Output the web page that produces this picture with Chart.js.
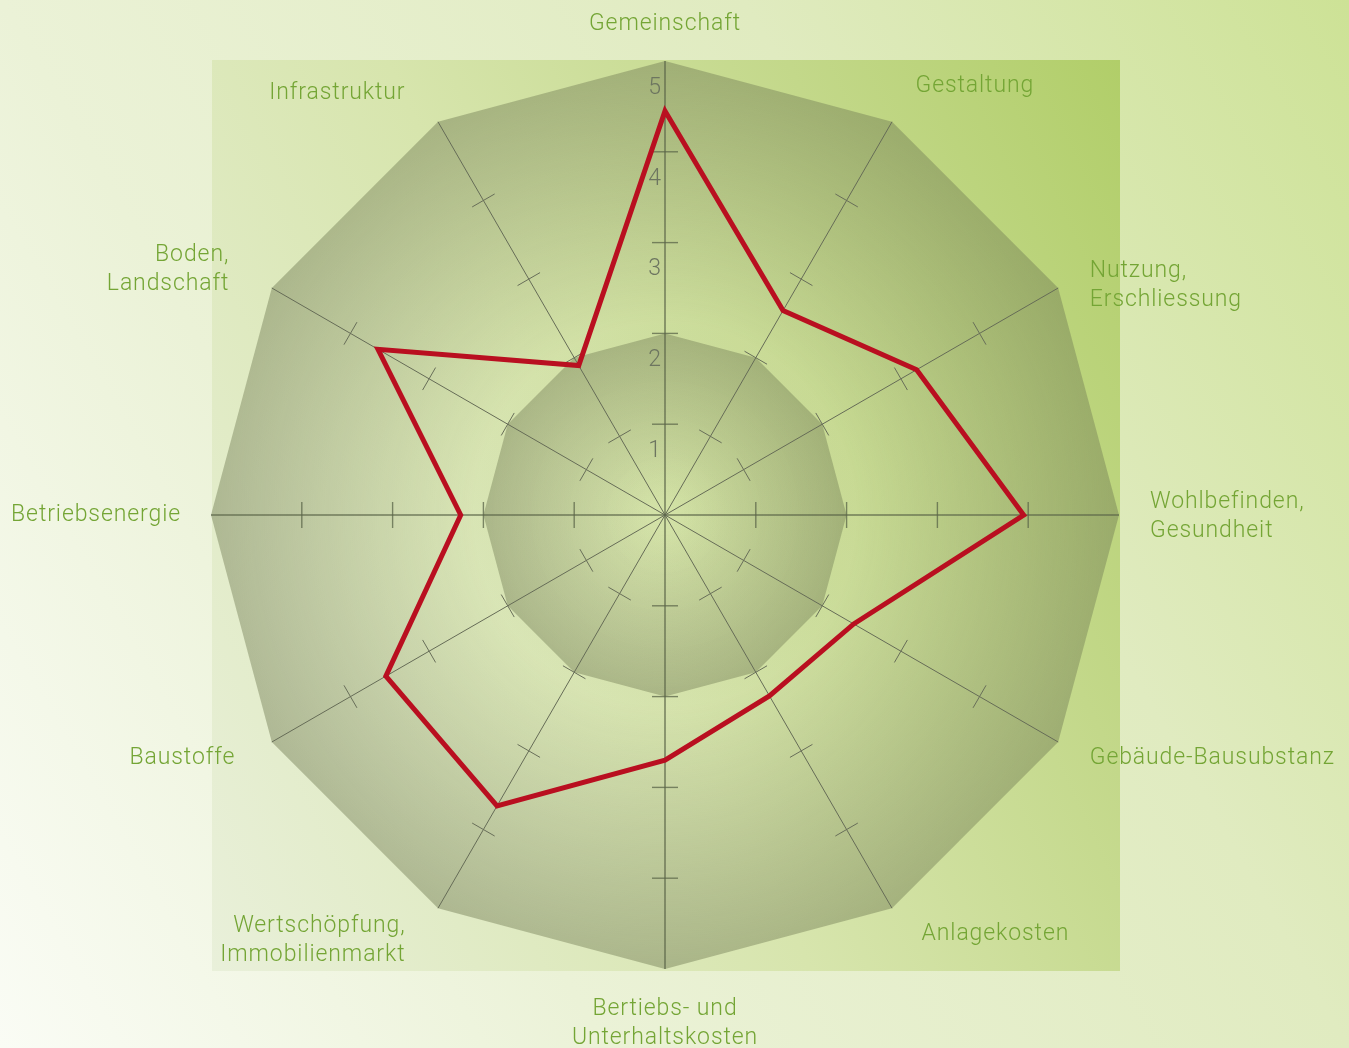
<!DOCTYPE html>
<html>
<head>
<meta charset="utf-8">
<script src="https://cdn.jsdelivr.net/npm/chart.js@4.4.1/dist/chart.umd.min.js"></script>
<style>
  html, body { margin: 0; padding: 0; width: 1349px; height: 1048px; overflow: hidden; }
  body {
    position: relative;
    background: linear-gradient(60deg, #fafcf5 0%, #ebf2d7 31%, #e0ebc0 69%, #cde296 100%);
  }
  #panel {
    position: absolute; left: 212px; top: 60px; width: 908px; height: 911px;
    background: linear-gradient(65deg, #e9f0da 0%, #d7e5ad 45%, #c3d88a 75%, #b1ce69 100%);
  }
  #wrap { position: absolute; left: 0; top: 0; width: 1349px; height: 1048px; }
</style>
</head>
<body>
<div id="panel"></div>
<div id="wrap"><canvas id="radar"></canvas></div>
<script>
// Kriterien im Uhrzeigersinn, beginnend oben
var kriterien = [
  ['Gemeinschaft'],
  ['Gestaltung'],
  ['Nutzung,', 'Erschliessung'],
  ['Wohlbefinden,', 'Gesundheit'],
  ['Gebäude-Bausubstanz'],
  ['Anlagekosten'],
  ['Bertiebs- und', 'Unterhaltskosten'],
  ['Wertschöpfung,', 'Immobilienmarkt'],
  ['Baustoffe'],
  ['Betriebsenergie'],
  ['Boden,', 'Landschaft'],
  ['Infrastruktur']
];
var bewertung = [4.45, 2.6, 3.2, 3.95, 2.4, 2.3, 2.7, 3.7, 3.55, 2.25, 3.65, 1.9];
var tickWerte = [1, 2, 3, 4, 5];
var innenRing = 2;
var aussenRing = 5;

// kleine Verschiebungen der Beschriftungen (px), nur Gestaltung
var labelVersatz = [[0, 3], [7, -7], [3, 14], [-2, 2], [3, 0], [13, -3],
                    [0, 1], [-16, 4], [-8, 0], [3, 0], [-14, -2], [-16, 0]];

var gruen = '#74a535';
var schrift = '300 23px Roboto, "Open Sans", sans-serif';

var hintergrund = {
  id: 'hintergrund',
  beforeDraw: function (chart) {
    var s = chart.scales.r, ctx = chart.ctx;
    function flaeche(wert, alpha) {
      var r = s.getDistanceFromCenterForValue(wert);
      var g = ctx.createRadialGradient(s.xCenter, s.yCenter, 0, s.xCenter, s.yCenter, r);
      g.addColorStop(0, 'rgba(115,125,85,0)');
      g.addColorStop(wert === aussenRing ? 0.42 : 0.1, 'rgba(115,125,85,0.02)');
      g.addColorStop(1, 'rgba(115,125,85,' + alpha + ')');
      ctx.beginPath();
      for (var i = 0; i < kriterien.length; i++) {
        var p = s.getPointPositionForValue(i, wert);
        if (i === 0) ctx.moveTo(p.x, p.y); else ctx.lineTo(p.x, p.y);
      }
      ctx.closePath();
      ctx.fillStyle = g;
      ctx.fill();
    }
    ctx.save();
    flaeche(aussenRing, 0.47);
    flaeche(innenRing, 0.45);
    ctx.restore();
  },
  beforeDatasetsDraw: function (chart) {
    var s = chart.scales.r, ctx = chart.ctx;
    ctx.save();
    // Teilstriche quer zu jeder Achse
    for (var i = 0; i < kriterien.length; i++) {
      var a = s.getIndexAngle(i) - Math.PI / 2;
      var nx = -Math.sin(a), ny = Math.cos(a);
      var haupt = i % 3 === 0;
      ctx.strokeStyle = haupt ? 'rgba(90,100,72,0.75)' : '#676d58';
      ctx.lineWidth = haupt ? 1.4 : 1;
      tickWerte.forEach(function (v) {
        if (v >= aussenRing) return;
        var p = s.getPointPositionForValue(i, v);
        ctx.beginPath();
        ctx.moveTo(p.x - nx * 13, p.y - ny * 13);
        ctx.lineTo(p.x + nx * 13, p.y + ny * 13);
        ctx.stroke();
      });
    }
    // Skalenwerte auf der oberen Achse
    ctx.fillStyle = '#6d7560';
    ctx.font = '300 23px Roboto, sans-serif';
    ctx.textAlign = 'right';
    ctx.textBaseline = 'middle';
    tickWerte.forEach(function (v) {
      var p = s.getPointPositionForValue(0, v);
      ctx.fillText(String(v), p.x - 4, p.y + 27);
    });
    ctx.restore();
  },
  afterDraw: function (chart) {
    var s = chart.scales.r, ctx = chart.ctx;
    var zeile = 29;
    ctx.save();
    ctx.font = schrift;
    ctx.fillStyle = gruen;
    ctx.textBaseline = 'middle';
    if ('letterSpacing' in ctx) ctx.letterSpacing = '0.9px';
    var abstand = s.drawingArea + 33;
    var n = kriterien.length;
    kriterien.forEach(function (zeilen, i) {
      var p = s.getPointPosition(i, abstand);
      var x = p.x + labelVersatz[i][0];
      var y0;
      if (i === 0) {
        ctx.textAlign = 'center';
        y0 = p.y - 7 - (zeilen.length - 1) * zeile;
      } else if (i === n / 2) {
        ctx.textAlign = 'center';
        y0 = p.y + 6;
      } else {
        ctx.textAlign = i < n / 2 ? 'left' : 'right';
        y0 = p.y - (zeilen.length - 1) * zeile / 2;
      }
      y0 += labelVersatz[i][1];
      zeilen.forEach(function (t, k) {
        ctx.fillText(t, x, y0 + k * zeile);
      });
    });
    ctx.restore();
  }
};

var ctx = document.getElementById('radar').getContext('2d');
var chart = new Chart(ctx, {
  type: 'radar',
  data: {
    labels: kriterien,
    datasets: [{
      label: 'Bewertung',
      data: bewertung,
      fill: false,
      borderColor: '#b90f20',
      borderWidth: 5,
      borderJoinStyle: 'miter',
      tension: 0,
      pointRadius: 0,
      pointHoverRadius: 0
    }]
  },
  options: {
    responsive: true,
    maintainAspectRatio: false,
    animation: false,
    layout: { padding: { left: 211, right: 230, top: 61, bottom: 79 } },
    plugins: { legend: { display: false }, tooltip: { enabled: false } },
    scales: {
      r: {
        min: 0,
        max: aussenRing,
        ticks: { display: false, stepSize: 1 },
        grid: { display: false },
        pointLabels: { display: false },
        angleLines: {
          display: true,
          color: function (c) { return c.index % 3 === 0 ? 'rgba(90,100,72,0.6)' : '#656b56'; },
          lineWidth: function (c) { return c.index % 3 === 0 ? 2 : 1; }
        }
      }
    }
  },
  plugins: [hintergrund]
});
</script>
</body>
</html>
